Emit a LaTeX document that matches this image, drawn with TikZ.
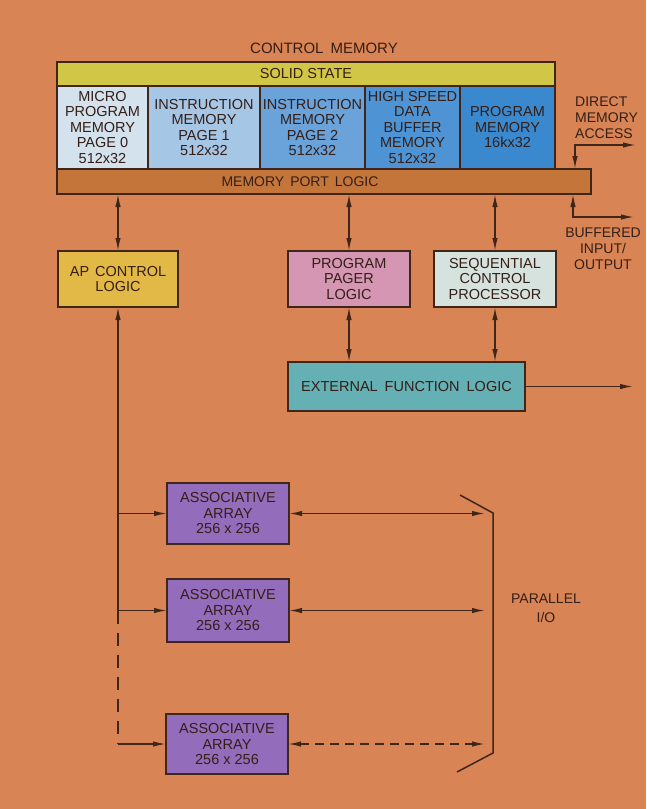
\documentclass[tikz,border=0pt]{standalone}
\usepackage{fontspec}
\setmainfont{Liberation Sans}
\usetikzlibrary{arrows.meta}
\definecolor{bg}{RGB}{217,132,84}
\definecolor{ln}{RGB}{64,38,24}
\definecolor{tx}{RGB}{52,30,22}
\definecolor{solid}{RGB}{210,198,70}
\definecolor{cA}{RGB}{212,226,238}
\definecolor{cB}{RGB}{166,198,230}
\definecolor{cC}{RGB}{106,162,218}
\definecolor{cD}{RGB}{78,148,212}
\definecolor{cE}{RGB}{58,136,206}
\definecolor{port}{RGB}{196,118,58}
\definecolor{apc}{RGB}{226,184,70}
\definecolor{ppl}{RGB}{212,150,178}
\definecolor{scp}{RGB}{214,226,222}
\definecolor{efl}{RGB}{100,176,180}
\definecolor{arr}{RGB}{148,108,188}
\tikzset{
  >={Latex[length=13pt,width=5.5pt]},
  blk/.style={draw=ln, line width=1.5pt, inner sep=0pt, outer sep=0pt, anchor=north west,
    align=center, text=tx, font=\fontsize{14.5}{15.5}\selectfont},
  lbl/.style={inner sep=0pt, text=tx, font=\fontsize{14}{16}\selectfont},
  conn/.style={draw=ln, line width=1.5pt},
  dbl/.style={conn, <->},
  one/.style={conn, ->},
}
\begin{document}
\begin{tikzpicture}[x=1pt,y=-1pt]
\fill[bg] (0,0) rectangle (646,809);
\useasboundingbox (0,0) rectangle (646,809);

% control memory
\node[lbl, font=\fontsize{15}{16}\selectfont] (title) at (324,48) {CONTROL\hspace{7pt}MEMORY};
\node[blk, fill=solid, minimum width=498pt, minimum height=24pt] (solid) at (57,62) {SOLID STATE};
\node[blk, fill=cA, minimum width=91pt, minimum height=83pt] (m0) at (57,86) {MICRO\\PROGRAM\\MEMORY\\PAGE 0\\512x32};
\node[blk, fill=cB, minimum width=112pt, minimum height=83pt] (m1) at (148,86) {INSTRUCTION\\MEMORY\\PAGE 1\\512x32};
\node[blk, fill=cC, minimum width=105pt, minimum height=83pt] (m2) at (260,86) {INSTRUCTION\\MEMORY\\PAGE 2\\512x32};
\node[blk, fill=cD, minimum width=95pt, minimum height=83pt] (m3) at (365,86) {HIGH SPEED\\DATA\\BUFFER\\MEMORY\\512x32};
\node[blk, fill=cE, minimum width=95pt, minimum height=83pt] (m4) at (460,86) {PROGRAM\\MEMORY\\16kx32};
\node[blk, fill=port, minimum width=534pt, minimum height=25pt] (port) at (57,169) {};
\node[lbl] (portlbl) at (300,182) {MEMORY\hspace{6pt}PORT\hspace{6pt}LOGIC};

% right side labels
\coordinate (dmac) at (575,145);
\coordinate (dmae) at (636,145);
\draw[dbl] (port.north -| dmac) -- (dmac) -- (dmae);
\node[lbl, anchor=north west, align=left] (dmalbl) at (575,97) {DIRECT\\MEMORY\\ACCESS};
\coordinate (bioc) at (573,217);
\coordinate (bioe) at (634,217);
\draw[dbl] (port.south -| bioc) -- (bioc) -- (bioe);
\node[lbl, align=center] (biolbl) at (603,249) {BUFFERED\\INPUT/\\OUTPUT};

% middle blocks
\node[blk, fill=apc, minimum width=120pt, minimum height=56pt] (ap) at (58,251) {AP\hspace{6pt}CONTROL\\LOGIC};
\node[blk, fill=ppl, minimum width=122pt, minimum height=56pt] (pp) at (288,251) {PROGRAM\\PAGER\\LOGIC};
\node[blk, fill=scp, minimum width=122pt, minimum height=56pt] (sc) at (434,251) {SEQUENTIAL\\CONTROL\\PROCESSOR};
\node[blk, fill=efl, minimum width=237pt, minimum height=49pt] (ef) at (288,362) {EXTERNAL\hspace{7pt}FUNCTION\hspace{7pt}LOGIC};

\draw[dbl] (port.south -| ap.north) -- (ap.north);
\draw[dbl] (port.south -| pp.north) -- (pp.north);
\draw[dbl] (port.south -| sc.north) -- (sc.north);
\draw[dbl] (pp.south) -- (pp.south |- ef.north);
\draw[dbl] (sc.south) -- (sc.south |- ef.north);
\coordinate (efo) at (633,386);
\draw[one] (ef.east) -- (ef.east -| efo);

% associative arrays
\node[blk, fill=arr, minimum width=122pt, minimum height=61pt] (a1) at (167,483) {ASSOCIATIVE\\ARRAY\\256 x 256};
\node[blk, fill=arr, minimum width=122pt, minimum height=63pt] (a2) at (167,579) {ASSOCIATIVE\\ARRAY\\256 x 256};
\node[blk, fill=arr, minimum width=122pt, minimum height=60pt] (a3) at (166,714) {ASSOCIATIVE\\ARRAY\\256 x 256};

\coordinate (b1) at (ap.south |- a1.west);
\coordinate (b2) at (ap.south |- a2.west);
\coordinate (b3) at (ap.south |- a3.west);
\draw[conn, <-] (ap.south) -- (b2);
\draw[conn, dash pattern=on 13pt off 9pt] (b2) -- (b3);
\draw[one] (b1) -- (a1.west);
\draw[one] (b2) -- (a2.west);
\draw[one] (b3) -- (a3.west);

% parallel I/O
\coordinate (pio) at (485,0);
\draw[dbl] (a1.east) -- (a1.east -| pio);
\draw[dbl] (a2.east) -- (a2.east -| pio);
\draw[dbl, dash pattern=on 9pt off 6pt] (a3.east) -- (a3.east -| pio);
\coordinate (br1) at (460,495);
\coordinate (br2) at (493,513);
\coordinate (br3) at (493,753);
\coordinate (br4) at (457,772);
\draw[conn] (br1) -- (br2) -- (br3) -- (br4);
\node[lbl, align=center, font=\fontsize{14}{19}\selectfont] (piolbl) at (546,608) {PARALLEL\\I/O};
\end{tikzpicture}
\end{document}
